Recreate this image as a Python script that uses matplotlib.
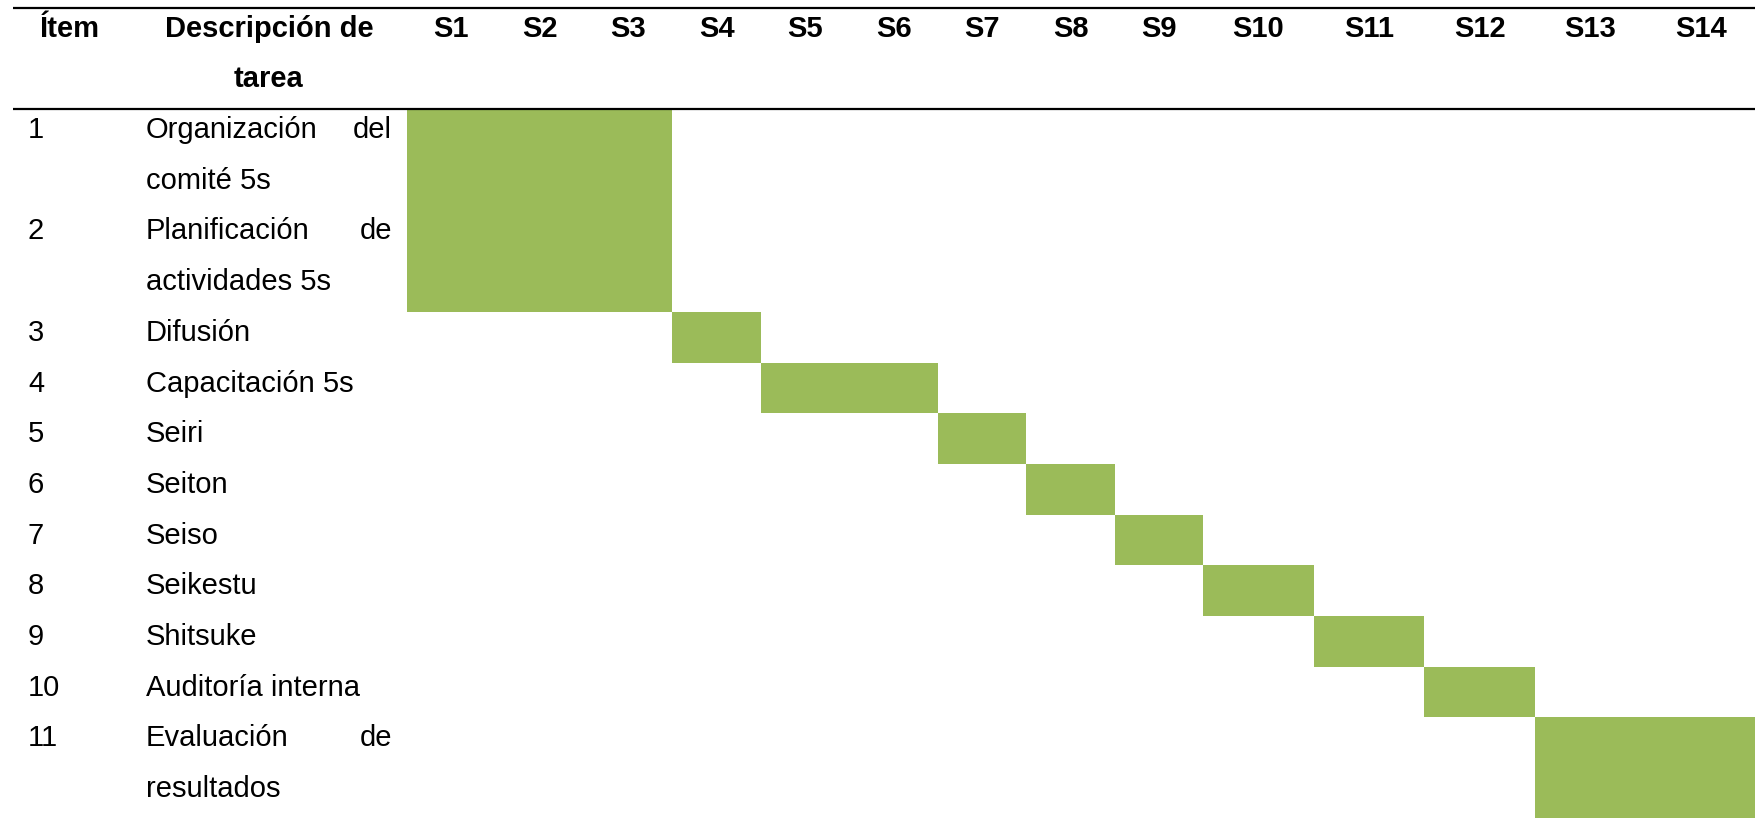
import numpy as np
import matplotlib
matplotlib.use('Agg')
import matplotlib.pyplot as plt

# table content
items = ['1', '2', '3', '4', '5', '6', '7', '8', '9', '10', '11']
desc_lines = [['Organización del', 'comité 5s'],
              ['Planificación de', 'actividades 5s'],
              ['Difusión'],
              ['Capacitación 5s'],
              ['Seiri'],
              ['Seiton'],
              ['Seiso'],
              ['Seikestu'],
              ['Shitsuke'],
              ['Auditoría interna'],
              ['Evaluación de', 'resultados']]
weeks = ['S1', 'S2', 'S3', 'S4', 'S5', 'S6', 'S7', 'S8', 'S9', 'S10', 'S11', 'S12', 'S13', 'S14']
week_widths = [1, 1, 1, 1, 1, 1, 1, 1, 1, 1.25, 1.25, 1.25, 1.25, 1.25]
start_week = [1, 1, 4, 5, 7, 8, 9, 10, 11, 12, 13]
end_week = [3, 3, 4, 6, 7, 8, 9, 10, 11, 12, 14]

W, H = 1756, 818
green = '#9bbb59'
body_font = ['Liberation Sans', 'DejaVu Sans']
head_font = ['Liberation Sans Narrow', 'Liberation Sans', 'DejaVu Sans']
fs = 21
fs_head = 21

# layout in pixels
x_gantt = 407
unit = (W - x_gantt) / sum(week_widths)
line_h = 50.7
y_head = 109
x_item = 28
x_desc = 146
x_desc_r = 392

fig = plt.figure(figsize=(W / 100, H / 100), dpi=100)
ax = fig.add_axes([0, 0, 1, 1])
ax.set_xlim(0, W)
ax.set_ylim(H, 0)
ax.axis('off')

edges = x_gantt + unit * np.concatenate([[0], np.cumsum(week_widths)])

# header
ax.plot([13, W], [8, 8], color='black', lw=1.6, solid_capstyle='butt')
ax.plot([13, W], [y_head, y_head], color='black', lw=1.6, solid_capstyle='butt')
h_top = y_head - 2 * line_h
base = 29
ax.text(70, h_top + base, 'Ítem', ha='center', va='baseline', fontsize=fs_head,
        fontweight='bold', family=head_font)
ax.text(269, h_top + base, 'Descripción de', ha='center', va='baseline', fontsize=fs_head,
        fontweight='bold', family=head_font)
ax.text(269, h_top + line_h + base, 'tarea', ha='center', va='baseline', fontsize=fs_head,
        fontweight='bold', family=head_font)
for i, w in enumerate(weeks):
    ax.text((edges[i] + edges[i + 1]) / 2, h_top + base, w, ha='center', va='baseline',
            fontsize=fs_head, fontweight='bold', family=head_font)

# rows
n_lines = [len(d) for d in desc_lines]
row_top = y_head + line_h * np.concatenate([[0], np.cumsum(n_lines)[:-1]])

for i in range(len(items)):
    ax.text(x_item, row_top[i] + base, items[i], ha='left', va='baseline',
            fontsize=fs, family=body_font)
    for j, ln in enumerate(desc_lines[i]):
        y = row_top[i] + j * line_h + base
        words = ln.split()
        if j < len(desc_lines[i]) - 1 and len(words) > 1:
            # justified line
            ax.text(x_desc, y, ' '.join(words[:-1]), ha='left', va='baseline',
                    fontsize=fs, family=body_font)
            ax.text(x_desc_r, y, words[-1], ha='right', va='baseline',
                    fontsize=fs, family=body_font)
        else:
            ax.text(x_desc, y, ln, ha='left', va='baseline', fontsize=fs, family=body_font)

left = edges[np.array(start_week) - 1]
right = edges[np.array(end_week)]
ax.barh(row_top, right - left, height=np.array(n_lines) * line_h, left=left,
        align='edge', color=green, edgecolor='none', linewidth=0, antialiased=False)

fig.savefig('out.png', dpi=100)
